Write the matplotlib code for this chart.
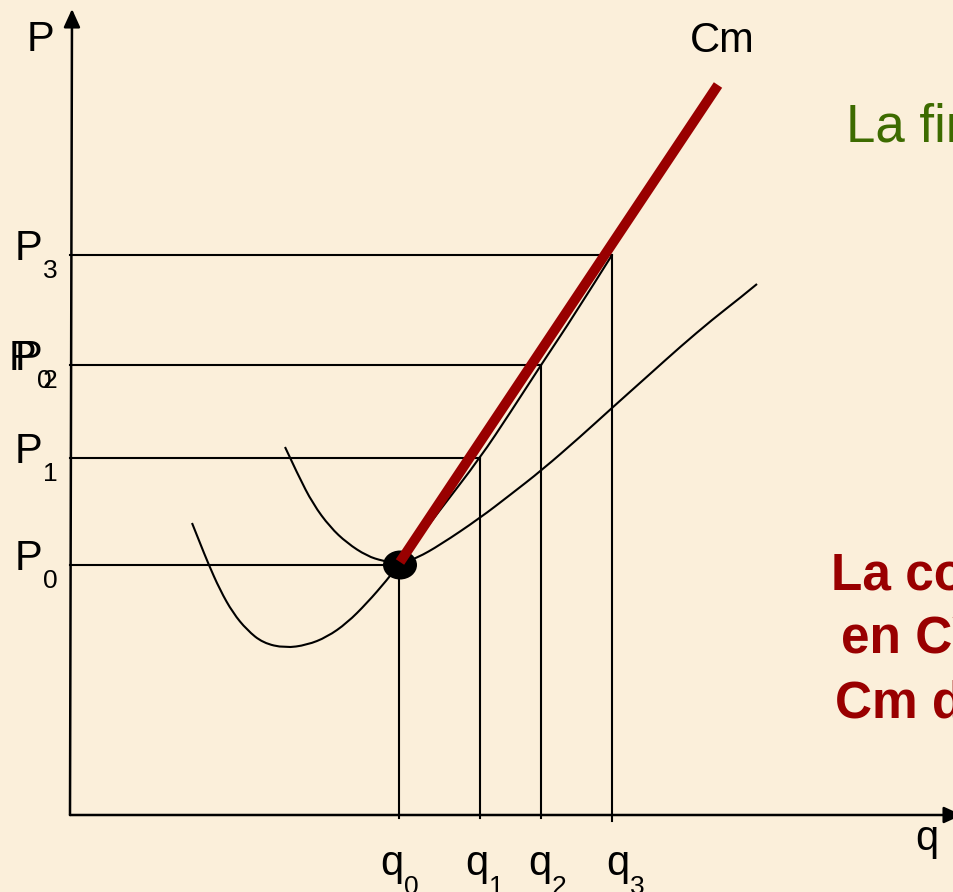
import matplotlib.pyplot as plt
from matplotlib.patches import Ellipse, PathPatch
from matplotlib.path import Path

# niveles de precio y cantidades (origen en el cruce de los ejes)
price_names = ['P0', 'P1', 'P2', 'P3']
price_levels = [250, 357, 450, 560]
qty_names = ['q0', 'q1', 'q2', 'q3']
quantities = [329, 410, 471, 542]

# curva de costo marginal (Cm), trazo fino
cm_q = [122, 130, 138, 150, 163, 177, 193, 215, 237, 257, 277, 297, 317,
        330, 370, 410, 440, 471, 505, 542]
cm_p = [292, 272, 252, 225, 202, 185, 172, 167, 170, 178, 192, 212, 235,
        252, 305, 357, 402, 450, 501, 560]

# curva de costo medio (U superior)
cme_q = [215, 228, 243, 260, 277, 297, 313, 330, 347, 370, 410, 440, 472,
         510, 543, 580, 610, 643, 670, 687]
cme_p = [368, 340, 311, 288, 272, 259, 254, 251, 257, 270, 297, 320, 345,
         378, 408, 441, 468, 496, 517, 531]

# tramo de oferta resaltado
supply_q = [330, 648]
supply_p = [253, 730]

BG = '#FBEFDA'
DARK_RED = '#990000'
GREEN = '#3D6B00'
FONT = 'Liberation Sans'

plt.rcParams['font.family'] = [FONT, 'DejaVu Sans']


def smooth_path(xs, ys):
    """Curva suave: los puntos leidos son controles de Bezier cuadraticas."""
    pts = list(zip(xs, ys))
    verts = [pts[0]]
    codes = [Path.MOVETO]
    for k in range(1, len(pts) - 1):
        mid = ((pts[k][0] + pts[k + 1][0]) / 2, (pts[k][1] + pts[k + 1][1]) / 2)
        if k == len(pts) - 2:
            mid = pts[-1]
        verts += [pts[k], mid]
        codes += [Path.CURVE3, Path.CURVE3]
    return Path(verts, codes)


fig = plt.figure(figsize=(9.54, 8.92), dpi=100, facecolor=BG)
ax = fig.add_axes([0, 0, 1, 1])
ax.set_facecolor(BG)
ax.set_xlim(-70, 884)
ax.set_ylim(-77, 815)
ax.axis('off')

# ejes con flecha
arrow = dict(arrowstyle='-|>,head_length=0.55,head_width=0.25',
             mutation_scale=20, lw=1.8, color='black', shrinkA=0, shrinkB=0)
ax.annotate('', xy=(2, 806), xytext=(0, 0), arrowprops=arrow,
            annotation_clip=False)
ax.annotate('', xy=(892, 0), xytext=(0, 0), arrowprops=arrow,
            annotation_clip=False)

# lineas guia
for i, (q, p) in enumerate(zip(quantities, price_levels)):
    ax.plot([0, q], [p, p], color='black', lw=1.5, zorder=2)
    bottom = -6 if i == 3 else -3
    ax.plot([q, q], [p, bottom], color='black', lw=1.5, zorder=2)

# curvas de costos
for xs, ys in [(cm_q, cm_p), (cme_q, cme_p)]:
    ax.add_patch(PathPatch(smooth_path(xs, ys), facecolor='none',
                           edgecolor='black', lw=1.5, zorder=3))

# punto de cierre
ax.add_patch(Ellipse((330, 250), 34, 29, facecolor='black',
                     edgecolor='none', zorder=4))

# tramo Cm resaltado
ax.plot(supply_q, supply_p, color=DARK_RED, lw=7.2,
        solid_capstyle='butt', zorder=5)

# etiquetas de precios
lab = dict(fontsize=30, color='black', va='baseline', ha='left')
sub = dict(fontsize=19, color='black', va='baseline', ha='left')
ax.text(-43, 764, 'P', **lab)
for name, p in zip(price_names, price_levels):
    ax.text(-55, p - 5, name[0], **lab)
    ax.text(-27, p - 23, name[1], **sub)
# P0 superpuesto sobre P2 (como en la diapositiva)
ax.text(-61, price_levels[2] - 5, 'P', **lab)
ax.text(-33, price_levels[2] - 23, '0', **sub)

# etiquetas de cantidades
q_label_dx = [-19, -15, -13, -6]
for name, q, dx in zip(qty_names, quantities, q_label_dx):
    ax.text(q + dx, -60, name[0], **lab)
    ax.text(q + dx + 24, -79, name[1], **sub)
ax.text(845, -35, 'q', **lab)
ax.text(620, 763, 'Cm', **lab)

# texto de la diapositiva (cortado por el borde)
ax.text(776, 674, 'La firma', fontsize=38, color=GREEN, va='baseline')
ax.text(880, 600, 'P', fontsize=38, color=GREEN, va='baseline')
red_lines = ['La condición', 'en CVMe', 'Cm de']
red_x = [761, 771, 765]
red_y = [226, 162, 98]
for t, x, y in zip(red_lines, red_x, red_y):
    ax.text(x, y, t, fontsize=37, fontweight='bold', color=DARK_RED,
            va='baseline')

plt.savefig('out.png', dpi=100, facecolor=BG)
plt.close()
